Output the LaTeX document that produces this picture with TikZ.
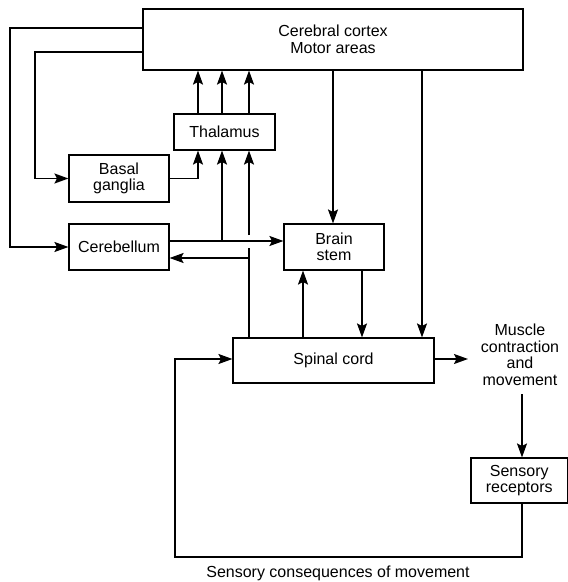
\documentclass[tikz,border=0pt]{standalone}
\usepackage{fontspec}
\setmainfont{Liberation Sans}
\usetikzlibrary{arrows.meta}
\begin{document}
\begin{tikzpicture}[x=1pt,y=-1pt,
  box/.style={draw,line width=1.1pt,rectangle,inner sep=0pt,align=center,
    font=\fontsize{16}{16.5}\selectfont},
  conn/.style={line width=1.6pt},
  arr/.style={conn,-{Stealth[length=14pt,width=10pt,inset=2.5pt]}},
  txt/.style={align=center,inner sep=0pt,font=\fontsize{16}{16.5}\selectfont}]
\useasboundingbox (0,0) rectangle (568,582);
% boxes
\node[box,minimum width=380pt,minimum height=61pt] (cortex) at (333,39.5) {Cerebral cortex\\Motor areas};
\node[box,minimum width=100pt,minimum height=47pt] (basal) at (119,178.5) {Basal\\ganglia};
\node[box,minimum width=100pt,minimum height=46pt] (cereb) at (119,247) {Cerebellum};
\node[box,minimum width=101pt,minimum height=36pt] (thal) at (224.5,132) {Thalamus};
\node[box,minimum width=100pt,minimum height=46pt] (stem) at (334,247) {Brain\\stem};
\node[box,minimum width=201pt,minimum height=45pt] (spinal) at (333.5,360.5) {Spinal cord};
\node[box,minimum width=96.5pt,minimum height=45pt] (recep) at (519.25,480.5) {Sensory\\receptors};
\node[txt] (muscle) at (520,355) {Muscle\\contraction\\and\\movement};
\node[txt] (conseq) at (338,573) {Sensory consequences of movement};
\coordinate (mw) at (468,359);
\coordinate (ms) at (522,394);
% cortex to cerebellum and basal ganglia
\draw[arr] (cortex.west |- 0,28) -- (10,28) -- (10,247) -- (cereb.west);
\draw[arr] (cortex.west |- 0,52) -- (35,52) |- (basal.west);
% thalamus to cortex
\draw[arr] (thal.north -| 198,0) -- (cortex.south -| 198,0);
\draw[arr] (thal.north -| 222,0) -- (cortex.south -| 222,0);
\draw[arr] (thal.north -| 249,0) -- (cortex.south -| 249,0);
% basal ganglia to thalamus
\draw[arr] (basal.east) -| (thal.south -| 198,0);
% cerebellum to brain stem and thalamus
\draw[arr] (cereb.east |- 0,241) -- (stem.west |- 0,241);
\draw[arr] (222,241) -- (thal.south -| 222,0);
% spinal cord to thalamus and cerebellum
\draw[conn] (spinal.north -| 249,0) -- (249,248);
\draw[arr] (249,235) -- (thal.south -| 249,0);
\draw[arr] (249,258) -- (cereb.east |- 0,258);
% cortex to brain stem and spinal cord
\draw[arr] (cortex.south -| 333,0) -- (stem.north -| 333,0);
\draw[arr] (cortex.south -| 422,0) -- (spinal.north -| 422,0);
% brain stem <-> spinal cord
\draw[arr] (stem.south -| 362,0) -- (spinal.north -| 362,0);
\draw[arr] (spinal.north -| 303,0) -- (stem.south -| 303,0);
% spinal to muscle
\draw[arr] (spinal.east |- mw) -- (mw);
\draw[arr] (ms) -- (recep.north -| ms);
% feedback
\draw[arr] (recep.south -| ms) -- (522,557) -- (175,557) |- (spinal.west |- 0,359);
\end{tikzpicture}
\end{document}
